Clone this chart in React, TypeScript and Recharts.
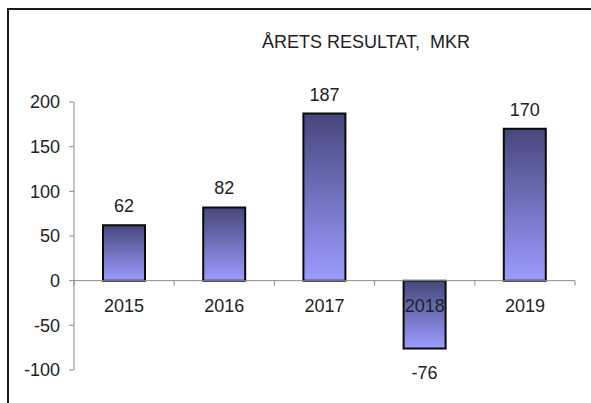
import { BarChart, Bar, XAxis, YAxis, ReferenceLine, LabelList } from "recharts";

// Årets resultat per år (MKR)
const years = ["2015", "2016", "2017", "2018", "2019"];
const resultat = [62, 82, 187, -76, 170];
const yTicks = [-100, -50, 0, 50, 100, 150, 200];

const data = years.map((year, i) => ({ year, value: resultat[i] }));

const W = 591;
const H = 403;
const TOP = 102;
const LEFT = 14;
const Y_WIDTH = 60;
const RIGHT = 16;
const X_HEIGHT = 33;
const PLOT_H = H - TOP - X_HEIGHT;
const PLOT_W = W - LEFT - Y_WIDTH - RIGHT;
const BAND = PLOT_W / years.length;
const Y_MIN = -100;
const Y_MAX = 200;
const ZERO_Y = TOP + (PLOT_H * Y_MAX) / (Y_MAX - Y_MIN);

const font = "'Liberation Sans', Arial, sans-serif";
const axisColor = "#8a8a8a";

const YearTick = (props: any) => {
  const { x, index } = props;
  return (
    <g>
      {index === 0 && (
        <line x1={x - BAND / 2} x2={x - BAND / 2} y1={ZERO_Y} y2={ZERO_Y + 5} stroke={axisColor} />
      )}
      <line x1={x + BAND / 2} x2={x + BAND / 2} y1={ZERO_Y} y2={ZERO_Y + 5} stroke={axisColor} />
      <text x={x} y={ZERO_Y + 31} textAnchor="middle" fontSize={18} fontFamily={font} fill="#222">
        {props.payload.value}
      </text>
    </g>
  );
};

const ValueLabel = (props: any) => {
  const { x, y, width, height, value } = props;
  const top = Math.min(y, y + height);
  const bottom = Math.max(y, y + height);
  const cx = x + width / 2;
  const ty = value >= 0 ? top - 13 : bottom + 30;
  return (
    <text x={cx} y={ty} textAnchor="middle" fontSize={18} fontFamily={font} fill="#222">
      {value}
    </text>
  );
};

export default function App() {
  return (
    <div style={{ position: "absolute", left: 0, top: 0, width: W, height: H, background: "#fff" }}>
      <div
        style={{
          position: "absolute",
          left: 7,
          top: 8,
          width: W - 7,
          height: H - 8,
          borderTop: "2px solid #1a1a1a",
          borderLeft: "2px solid #1a1a1a",
          boxSizing: "border-box",
        }}
      />
      <div
        style={{
          position: "absolute",
          left: 216,
          top: 33,
          width: 300,
          textAlign: "center",
          fontFamily: font,
          fontSize: 18,
          lineHeight: "18px",
          color: "#222",
          whiteSpace: "pre",
        }}
      >
        ÅRETS RESULTAT,  MKR
      </div>
      <div style={{ position: "absolute", left: 0, top: 0 }}>
        <BarChart
          width={W}
          height={H}
          data={data}
          margin={{ top: TOP, right: RIGHT, bottom: 0, left: LEFT }}
          barSize={42}
        >
          <defs>
            <linearGradient id="barFill" x1="0" y1="0" x2="0" y2="1">
              <stop offset="0%" stopColor="#46477c" />
              <stop offset="100%" stopColor="#9c9cff" />
            </linearGradient>
          </defs>
          <YAxis
            type="number"
            domain={[Y_MIN, Y_MAX]}
            ticks={yTicks}
            width={Y_WIDTH}
            stroke={axisColor}
            tickSize={5}
            tickMargin={9}
            tick={{ fontSize: 18, fontFamily: font, fill: "#222" }}
          />
          <ReferenceLine y={0} stroke={axisColor} />
          <Bar
            dataKey="value"
            fill="url(#barFill)"
            stroke="#0a0a0a"
            strokeWidth={2}
            isAnimationActive={false}
          >
            <LabelList dataKey="value" content={ValueLabel} />
          </Bar>
          <XAxis
            dataKey="year"
            height={X_HEIGHT}
            axisLine={false}
            tickLine={false}
            tickSize={0}
            interval={0}
            tick={YearTick}
          />
        </BarChart>
      </div>
    </div>
  );
}
